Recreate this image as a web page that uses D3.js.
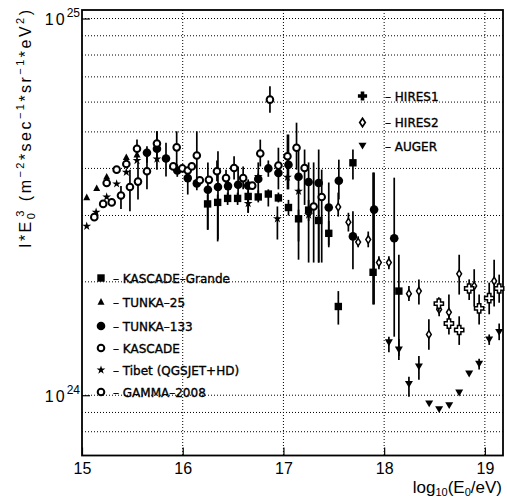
<!DOCTYPE html>
<html><head><meta charset="utf-8">
<script src="https://cdn.jsdelivr.net/npm/d3@7"></script>
<style>body{margin:0;background:#fff}svg{display:block}</style>
</head><body>
<svg id="c" width="507" height="499"></svg>
<script>
// values: [log10(E/eV), I*E^3 in units of 1e24, lower, upper]
const kascadeGrande = [
 [16.247,3.22,2.75,3.41],[16.347,3.25,2.56,3.41],[16.446,3.33,3.2,3.45],[16.545,3.33,3.2,3.45],
 [16.65,3.37,3.2,3.5],[16.75,3.36,3.25,3.5],[16.85,3.42,3.17,3.52],[16.95,3.34,3.25,3.45],
 [17.05,3.15,3.0,3.3],[17.15,2.94,2.29,3.11],[17.25,3.10,2.9,3.3],[17.35,2.91,2.25,3.11],
 [17.45,2.69,2.5,2.9],[17.545,1.72,1.54,1.89],[17.69,4.14,3.74,4.49],[17.89,2.12,1.74,3.90],
 [18.146,1.89,1.27,2.36]];
const tunka25 = [[15.047,3.35],[15.146,3.54],[15.245,3.80],[15.44,4.28],[15.546,4.35]];
const tunka133 = [
 [15.645,4.40,4.14,4.58],[15.744,4.51,3.97,5.02],[15.834,4.25,3.81,4.68],[15.946,3.95,3.8,4.1],
 [16.05,3.77,3.41,3.97],[16.14,3.65,3.5,3.8],[16.25,3.51,2.75,4.15],[16.35,3.57,2.59,4.44],
 [16.45,3.59,3.4,3.8],[16.55,3.62,3.37,4.05],[16.65,3.60,3.05,3.74],[16.75,3.75,3.31,4.15],
 [16.85,4.00,3.8,4.2],[16.95,3.89,3.52,4.54],[17.05,4.09,3.52,4.92],[17.15,3.80,2.56,4.49],
 [17.25,3.68,2.25,4.15],[17.35,3.66,2.25,4.49],[17.45,3.15,2.47,3.67],[17.55,3.71,3.31,4.22],
 [17.69,2.64,2.16,3.08],[17.90,3.11,1.74,3.90],[18.10,2.61,1.43,3.78]];
const kascade = [
 [15.245,3.66],[15.344,3.97],[15.44,4.11],[15.546,4.51,4.27,4.77],[15.744,4.66,4.31,5.02],
 [15.94,4.55,3.97,5.02],[16.14,4.33,3.74,5.02],[16.34,3.93,3.7,4.2],[16.51,4.01,3.74,4.31],
 [16.77,4.38,4.05,4.77],[16.866,6.09,5.62,6.61],[17.04,4.31,3.52,4.92],[17.13,4.54,3.97,5.29]];
const tibet = [
 [15.047,2.81],[15.14,3.06],[15.245,3.36],[15.344,3.64],[15.44,3.91],[15.546,4.20],[15.744,4.24],
 [16.65,3.23,3.05,3.37],[16.75,3.81],[16.94,2.94,2.59,3.17],[17.04,3.79],[17.15,3.48],[17.25,3.01]];
const gamma2008 = [
 [15.122,2.97],[15.21,3.22],[15.295,3.25],[15.387,3.39,3.12,3.59],[15.476,3.57,3.08,3.97],
 [15.556,3.69,3.31,4.15],[15.645,3.93,3.52,4.31],[15.906,4.05],[15.996,4.00],[16.05,3.95],
 [16.09,4.05],[16.17,3.72],[16.26,3.73],[16.43,3.77,3.52,3.97],[16.60,3.77,3.52,4.05],
 [16.69,3.60],[16.95,4.07],[17.21,4.01,3.2,4.49],[17.30,3.17,2.25,4.15],[17.38,3.36,2.25,3.97]];
const hires1 = [
 [18.543,1.75,1.67,1.82],[18.643,1.55,1.45,1.64],[18.745,1.49,1.36,1.62],[18.844,1.92,1.79,2.03],
 [18.943,1.70,1.54,1.85],[19.043,1.81,1.64,1.99],[19.142,1.92,1.76,2.09]];
const hires2 = [
 [17.544,3.16,2.98,3.45],[17.645,2.88,2.72,3.05],[17.742,2.55,2.47,2.64],[17.842,2.59,2.47,2.72],
 [17.948,2.25,2.16,2.34],[18.047,2.25,2.16,2.34],[18.246,1.86,1.78,1.95],[18.345,1.89,1.74,2.03],
 [18.444,1.45,1.32,1.59],[18.546,1.69,1.62,1.74],[18.643,1.66,1.54,1.85],[18.745,2.10,1.85,2.36],
 [18.894,1.95,1.72,2.16],[19.092,2.01,1.72,2.29]];
const auger = [
 [18.047,1.38,1.30,1.43],[18.146,1.32,1.24,1.41],[18.246,1.07,0.99,1.12],[18.345,1.19,1.10,1.27],
 [18.447,0.95],[18.546,0.917],[18.646,0.939],[18.745,1.015],[18.844,1.14],[18.943,1.21,1.17,1.25],
 [19.043,1.405,1.36,1.45],[19.142,1.47,1.40,1.55]];
const xTicks = [15,16,17,18,19];
const yGrid = [0.8,0.9,1,2,3,4,5,6,7,8,9,10];
const yTicks = [1,10];
const yTickExp = ["24","25"];
const legendLeft = ["KASCADE–Grande","TUNKA–25","TUNKA–133","KASCADE","Tibet (QGSJET+HD)","GAMMA–2008"];
const legendRight = ["HIRES1","HIRES2","AUGER"];

const svg = d3.select("#c");
const L=82,R=503,T=10,B=455.5;
const x = d3.scaleLinear().domain([15,19.18]).range([L,R]);
const y = d3.scaleLog().domain([Math.pow(10,-0.16),Math.pow(10,1.0226)]).range([B,T]);

svg.append("rect").attr("width",507).attr("height",499).attr("fill","#fff");
// grid
const g = svg.append("g");
g.selectAll(".vg").data(xTicks.slice(1)).join("line")
 .attr("x1",d=>x(d)).attr("x2",d=>x(d)).attr("y1",T).attr("y2",B)
 .attr("stroke","#000").attr("stroke-width",1).attr("stroke-dasharray","1,2");
g.selectAll(".hg").data(yGrid).join("line")
 .attr("x1",L).attr("x2",R).attr("y1",d=>y(d)).attr("y2",d=>y(d))
 .attr("stroke","#000").attr("stroke-width",1).attr("stroke-dasharray","1,2");

// axes
const ax = svg.append("g").attr("transform",`translate(0,${B})`)
 .call(d3.axisBottom(x).tickValues(xTicks).tickSizeInner(-8).tickSizeOuter(0).tickPadding(7).tickFormat(d3.format("d")));
ax.select(".domain").remove();
ax.selectAll("line").attr("stroke-width",1.2);
ax.selectAll("text").attr("font-family","Liberation Sans, Arial, sans-serif").attr("font-size",16).attr("fill","#000");

const ay = svg.append("g").attr("transform",`translate(${L},0)`)
 .call(d3.axisLeft(y).tickValues(yTicks).tickSizeInner(-8).tickSizeOuter(0).tickFormat(""));
ay.select(".domain").remove();
ay.selectAll("line").attr("stroke-width",1.2);
ay.selectAll(".tick").each(function(d,i){
  const t = d3.select(this).append("text").attr("x",-2).attr("y",6).attr("text-anchor","end")
   .attr("font-family","Liberation Sans, Arial, sans-serif").attr("font-size",16).attr("fill","#000");
  t.append("tspan").text("10").attr("letter-spacing",2);
  t.append("tspan").text(yTickExp[i]).attr("font-size",12).attr("dy",-8);
});

// frame
svg.append("rect").attr("x",L).attr("y",T).attr("width",R-L).attr("height",B-T)
 .attr("fill","none").attr("stroke","#000").attr("stroke-width",1.8);

// marker shapes
const shapes = {
  square: s=>s.append("rect").attr("x",-3.7).attr("y",-3.7).attr("width",7.4).attr("height",7.4).attr("fill","#000"),
  triUp: s=>s.append("path").attr("d","M0,-3.9L3.5,2.7L-3.5,2.7Z").attr("fill","#000"),
  circle: s=>s.append("circle").attr("r",4.3).attr("fill","#000"),
  open: s=>s.append("circle").attr("r",3.3).attr("fill","#fff").attr("stroke","#000").attr("stroke-width",2),
  star: s=>s.append("path").attr("d",d3.symbol(d3.symbolStar,24)()).attr("fill","#000"),
  cross: s=>s.append("path").attr("d","M-1.7,-4.6H1.7V-1.7H4.6V1.7H1.7V4.6H-1.7V1.7H-4.6V-1.7H-1.7Z").attr("fill","#fff").attr("stroke","#000").attr("stroke-width",1.5),
  crossF: s=>s.append("path").attr("d","M-1.8,-4.6H1.8V-1.8H4.6V1.8H1.8V4.6H-1.8V1.8H-4.6V-1.8H-1.8Z").attr("fill","#000"),
  diamond: s=>s.append("path").attr("d","M0,-3.8L2.4,0L0,3.8L-2.4,0Z").attr("fill","#fff").attr("stroke","#000").attr("stroke-width",1.5),
  diamondL: s=>s.append("path").attr("d","M0,-4.2L2.8,0L0,4.2L-2.8,0Z").attr("fill","#fff").attr("stroke","#000").attr("stroke-width",1.7),
  triDown: s=>s.append("path").attr("d","M-4,-3.2L4,-3.2L0,3.6Z").attr("fill","#000")
};

function drawSeries(data, shape){
  const gg = svg.append("g");
  gg.selectAll("line").data(data.filter(d=>d.length>2)).join("line")
   .attr("x1",d=>x(d[0])).attr("x2",d=>x(d[0])).attr("y1",d=>y(d[2])).attr("y2",d=>y(d[3]))
   .attr("stroke","#000").attr("stroke-width",1.7);
  gg.selectAll("g").data(data).join("g")
   .attr("transform",d=>`translate(${x(d[0])},${y(d[1])})`)
   .each(function(){ shapes[shape](d3.select(this)); });
}
drawSeries(tibet,"star");
drawSeries(tunka25,"triUp");
drawSeries(kascadeGrande,"square");
drawSeries(tunka133,"circle");
drawSeries(gamma2008,"open");
drawSeries(kascade,"open");
drawSeries(hires2,"diamond");
drawSeries(hires1,"cross");
drawSeries(auger,"triDown");

// legends
const font = "DejaVu Sans, Verdana, sans-serif";
const lShapes = ["square","triUp","circle","open","star","open"];
const lY = [278,302,326,348,370,392];
legendLeft.forEach((t,i)=>{
  const gg = svg.append("g").attr("transform",`translate(101,${lY[i]})`);
  shapes[lShapes[i]](gg);
  svg.append("text").attr("x",113).attr("y",lY[i]+4.5).attr("font-family",font).attr("font-size",12)
   .attr("fill","#000").attr("stroke","#000").attr("stroke-width",0.35).text("– "+t);
});
const rShapes = ["crossF","diamondL","triDown"];
const rY = [96,122.5,146];
legendRight.forEach((t,i)=>{
  const gg = svg.append("g").attr("transform",`translate(362.5,${rY[i]})`);
  shapes[rShapes[i]](gg);
  svg.append("text").attr("x",385).attr("y",rY[i]+4.5).attr("font-family",font).attr("font-size",12)
   .attr("fill","#000").attr("stroke","#000").attr("stroke-width",0.35).text("– "+t);
});

// axis titles
const xt = svg.append("text").attr("x",502).attr("y",493).attr("text-anchor","end")
 .attr("font-family","Liberation Sans, Arial, sans-serif").attr("font-size",17).attr("fill","#000");
xt.append("tspan").text("log");
xt.append("tspan").text("10").attr("font-size",11).attr("dy",3);
xt.append("tspan").text("(E").attr("dy",-3);
xt.append("tspan").text("0").attr("font-size",11).attr("dy",3);
xt.append("tspan").text("/eV)").attr("dy",-3);

const yt = svg.append("text").attr("transform","translate(31,248) rotate(-90)")
 .attr("font-family","Liberation Sans, Arial, sans-serif").attr("font-size",16).attr("fill","#000")
 .attr("textLength",238).attr("lengthAdjust","spacing");
yt.append("tspan").text("I*E");
yt.append("tspan").text("0").attr("font-size",11).attr("dy",4);
yt.append("tspan").text("3").attr("font-size",11).attr("dx",-6).attr("dy",-11);
yt.append("tspan").text(" (m").attr("dy",7);
yt.append("tspan").text("−2").attr("font-size",11).attr("dy",-7);
yt.append("tspan").text("*sec").attr("dy",7);
yt.append("tspan").text("−1").attr("font-size",11).attr("dy",-7);
yt.append("tspan").text("*sr").attr("dy",7);
yt.append("tspan").text("−1").attr("font-size",11).attr("dy",-7);
yt.append("tspan").text("*eV").attr("dy",7);
yt.append("tspan").text("2").attr("font-size",11).attr("dy",-7);
yt.append("tspan").text(")").attr("dy",7);
</script>
</body></html>
